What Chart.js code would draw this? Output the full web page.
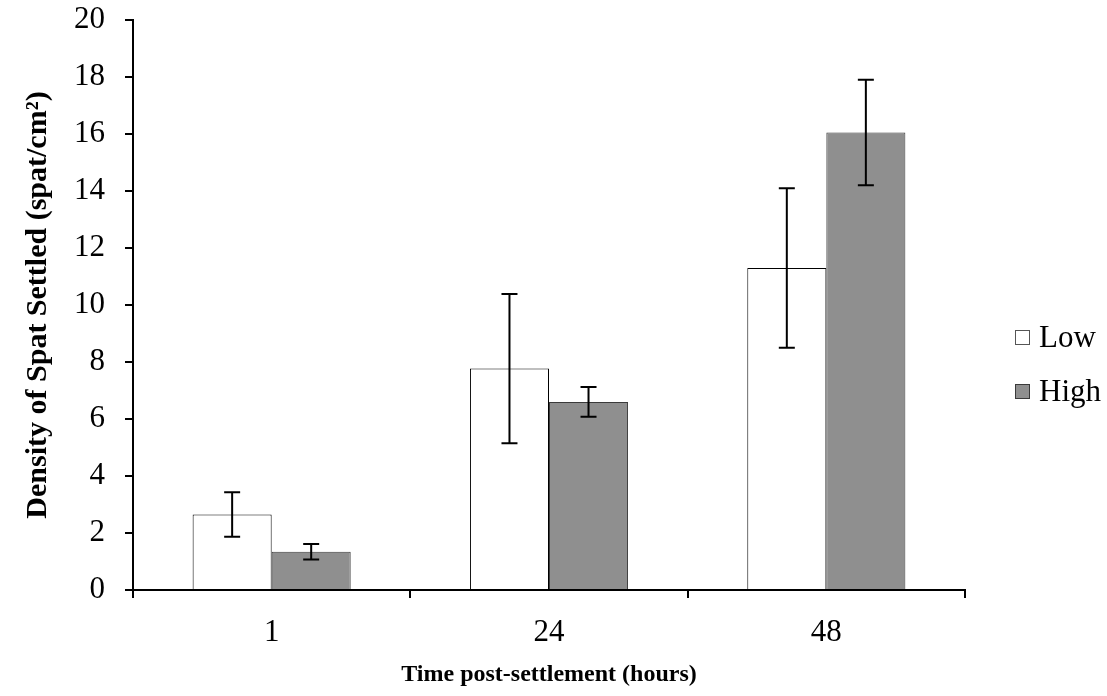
<!DOCTYPE html>
<html>
<head>
<meta charset="utf-8">
<script src="https://cdn.jsdelivr.net/npm/chart.js@4/dist/chart.umd.min.js"></script>
<style>
  html, body { margin: 0; padding: 0; background: #fff; }
  #c { display: block; }
</style>
</head>
<body>
<canvas id="c" width="1107" height="696"></canvas>
<script>
const categories = ['1', '24', '48'];
const seriesNames = ['Low', 'High'];
const lowValues = [2.65, 7.77, 11.30];
const highValues = [1.34, 6.60, 16.05];
const lowErrors = [0.78, 2.62, 2.80];
const highErrors = [0.27, 0.52, 1.85];
const yTickValues = [0, 2, 4, 6, 8, 10, 12, 14, 16, 18, 20];

const FONT = "'Liberation Serif', 'Times New Roman', serif";

const errorBarPlugin = {
  id: 'errorBars',
  afterDatasetsDraw(chart) {
    const ctx = chart.ctx;
    const yScale = chart.scales.y;
    chart.data.datasets.forEach((ds, i) => {
      const meta = chart.getDatasetMeta(i);
      meta.data.forEach((bar, j) => {
        const v = ds.data[j];
        const e = ds.errors[j];
        const yTop = yScale.getPixelForValue(v + e);
        const yBot = yScale.getPixelForValue(v - e);
        const x = bar.x;
        ctx.save();
        ctx.strokeStyle = '#000';
        ctx.lineWidth = 2;
        ctx.beginPath();
        ctx.moveTo(x, yTop); ctx.lineTo(x, yBot);
        ctx.moveTo(x - 8, yTop); ctx.lineTo(x + 8, yTop);
        ctx.moveTo(x - 8, yBot); ctx.lineTo(x + 8, yBot);
        ctx.stroke();
        ctx.restore();
      });
    });
  }
};

const legendPlugin = {
  id: 'sideLegend',
  afterDraw(chart) {
    const ctx = chart.ctx;
    const area = chart.chartArea;
    const x0 = area.right + 50;
    const yStart = 337;
    const gap = 54;
    chart.data.datasets.forEach((ds, i) => {
      const yc = yStart + i * gap;
      ctx.save();
      ctx.fillStyle = ds.backgroundColor;
      ctx.strokeStyle = i === 0 ? '#555' : ds.borderColor;
      ctx.lineWidth = 1;
      ctx.fillRect(x0, yc - 7, 15, 15);
      ctx.strokeRect(x0 + 0.5, yc - 6.5, 14, 14);
      ctx.fillStyle = '#000';
      ctx.font = '31px ' + FONT;
      ctx.textBaseline = 'middle';
      ctx.textAlign = 'left';
      ctx.fillText(ds.label, x0 + 24, yc + 2);
      ctx.restore();
    });
  }
};

new Chart(document.getElementById('c'), {
  type: 'bar',
  data: {
    labels: categories,
    datasets: [
      {
        label: seriesNames[0],
        data: lowValues,
        errors: lowErrors,
        backgroundColor: '#ffffff',
        borderColor: '#000000',
        borderWidth: 1,
        borderSkipped: 'bottom',
        categoryPercentage: 0.57,
        barPercentage: 1.0
      },
      {
        label: seriesNames[1],
        data: highValues,
        errors: highErrors,
        backgroundColor: '#8f8f8f',
        borderColor: '#3a3a3a',
        borderWidth: 1,
        borderSkipped: 'bottom',
        categoryPercentage: 0.57,
        barPercentage: 1.0
      }
    ]
  },
  options: {
    responsive: false,
    animation: false,
    layout: { padding: { top: 20, right: 142, bottom: 0, left: 0 } },
    plugins: {
      legend: { display: false },
      tooltip: { enabled: false }
    },
    scales: {
      x: {
        offset: true,
        grid: { display: true, drawOnChartArea: false, drawTicks: true, tickLength: 8, color: '#000', lineWidth: 2, offset: true },
        border: { display: true, color: '#000', width: 2 },
        ticks: { color: '#000', font: { family: FONT, size: 31 }, padding: 16 },
        title: {
          display: true,
          text: 'Time post-settlement (hours)',
          color: '#000',
          font: { family: FONT, size: 24, weight: 'bold' },
          padding: { top: 0, bottom: 7 }
        },
        afterFit(scale) { scale.height = 106; scale.paddingLeft = 0; scale.paddingRight = 0; }
      },
      y: {
        min: 0,
        max: 20,
        afterBuildTicks(scale) { scale.ticks = yTickValues.map(v => ({ value: v })); },
        grid: { display: true, drawOnChartArea: false, drawTicks: true, tickLength: 8, color: '#000', lineWidth: 2 },
        border: { display: true, color: '#000', width: 2 },
        ticks: { color: '#000', font: { family: FONT, size: 31 }, padding: 20 },
        title: {
          display: true,
          text: 'Density of Spat Settled (spat/cm²)',
          color: '#000',
          font: { family: FONT, size: 30, weight: 'bold' },
          padding: { top: 20, bottom: 0 }
        },
        afterFit(scale) { scale.width = 133; scale.paddingTop = 0; scale.paddingBottom = 0; }
      }
    }
  },
  plugins: [errorBarPlugin, legendPlugin]
});
</script>
</body>
</html>
